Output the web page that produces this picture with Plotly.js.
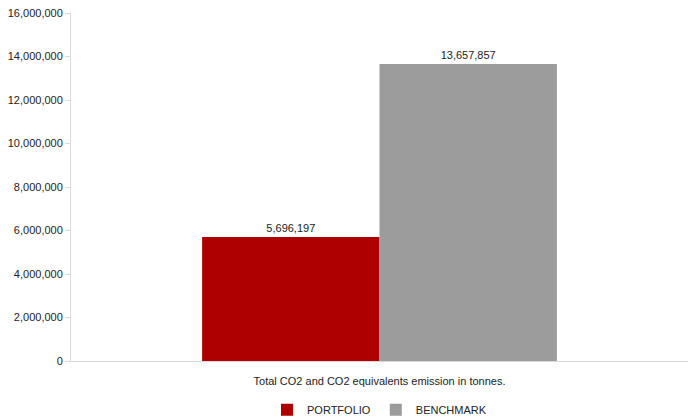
<!DOCTYPE html>
<html><head><meta charset="utf-8">
<script src="https://cdn.plot.ly/plotly-3.0.1.min.js"></script>
<style>body{margin:0;padding:0;background:#fff}#chart{width:690px;height:420px}</style>
</head><body><div id="chart"></div>
<script>
const categories = ["Total CO2 and CO2 equivalents emission in tonnes."];
const seriesNames = ["PORTFOLIO", "BENCHMARK"];
const portfolio = [5696197];
const benchmark = [13657857];
const colors = ["#ae0000", "#9c9c9c"];
const fmt = v => v.toLocaleString('en-US');
const traces = [portfolio, benchmark].map((vals, i) => ({
  type: 'bar', x: categories, y: vals, name: seriesNames[i],
  marker: {color: colors[i]},
  text: vals.map(fmt), textposition: 'outside', cliponaxis: false,
  textfont: {family: 'Liberation Sans, Arial', size: 11, color: '#222'},
  hoverinfo: 'none'
}));
const layout = {
  width: 690, height: 420,
  margin: {l: 71, r: 2, t: 13, b: 59, autoexpand: false},
  barmode: 'group', bargap: 0.425, bargroupgap: 0,
  font: {family: 'Liberation Sans, Arial', size: 11, color: '#222'},
  paper_bgcolor: '#fff', plot_bgcolor: '#fff',
  showlegend: true,
  legend: {orientation: 'h', x: 0.5, xanchor: 'center', y: -0.14, yanchor: 'middle',
    font: {size: 11}, itemwidth: 30, tracegroupgap: 0},
  xaxis: {showline: true, linecolor: '#d9d9d9', linewidth: 1, ticks: '', showgrid: false,
    tickfont: {size: 11}, ticklabelstandoff: 10, fixedrange: true},
  yaxis: {range: [0, 16000000], dtick: 2000000, tickformat: ',d', showgrid: false,
    showline: true, linecolor: '#d9d9d9', linewidth: 1, ticks: 'outside', ticklen: 5,
    tickcolor: '#d9d9d9', zeroline: false, tickfont: {size: 11}, fixedrange: true}
};
Plotly.newPlot('chart', traces, layout, {displayModeBar: false, staticPlot: true});
</script></body></html>
